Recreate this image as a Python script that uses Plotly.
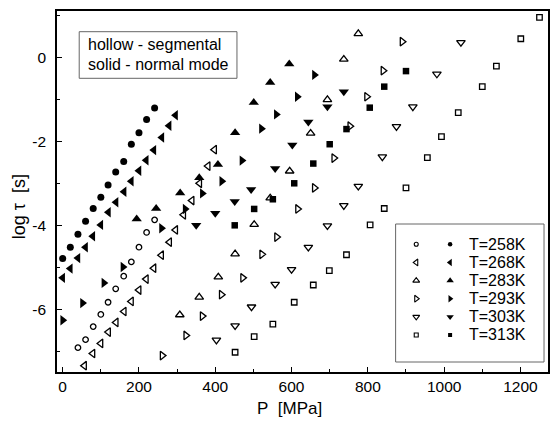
import plotly.graph_objects as go

# ---------------- data ----------------
temps = ["T=258K", "T=268K", "T=283K", "T=293K", "T=303K", "T=313K"]
symbols = ["circle", "triangle-left", "triangle-up", "triangle-right", "triangle-down", "square"]

# T=258K
p258_seg = [40, 60, 80, 100, 119, 139, 160, 180, 200, 220, 241]
t258_seg = [-6.91, -6.72, -6.41, -6.12, -5.83, -5.51, -5.21, -4.87, -4.52, -4.17, -3.87]
p258_nm = [0, 20, 40, 60, 80, 100, 119, 139, 160, 180, 200, 220, 241]
t258_nm = [-4.79, -4.52, -4.21, -3.90, -3.60, -3.33, -3.04, -2.73, -2.48, -2.07, -1.80, -1.48, -1.21]

# T=268K
p268_seg = [57, 79, 100, 120, 140, 161, 180, 200, 219, 239, 259, 280, 296, 317, 339, 359, 381, 398]
t268_seg = [-7.34, -7.05, -6.81, -6.54, -6.31, -6.05, -5.81, -5.54, -5.28, -5.02, -4.71, -4.40, -4.11, -3.75, -3.41, -3.00, -2.59, -2.20]
p268_nm = [0, 20, 40, 60, 79, 100, 120, 140, 161, 180, 200, 219, 239, 260, 279, 296]
t268_nm = [-5.25, -5.03, -4.78, -4.52, -4.26, -3.99, -3.69, -3.45, -3.20, -2.95, -2.70, -2.45, -2.21, -1.91, -1.63, -1.38]

# T=283K
p283_seg = [307, 358, 408, 452, 502, 544, 595, 650, 694, 737, 775]
t283_seg = [-6.13, -5.71, -5.23, -4.68, -3.98, -3.35, -2.71, -1.81, -1.01, -0.05, 0.56]
p283_nm = [194, 245, 308, 358, 407, 452, 501, 544, 594]
t283_nm = [-3.85, -3.60, -3.23, -2.87, -2.55, -1.80, -1.08, -0.60, -0.16]

# T=293K
p293_seg = [261, 323, 366, 416, 472, 522, 561, 616, 660, 711, 753, 797, 840, 890]
t293_seg = [-7.10, -6.62, -6.16, -5.65, -5.25, -4.69, -4.28, -3.61, -3.11, -2.40, -1.64, -0.94, -0.32, 0.37]
p293_nm = [0, 52, 108, 158, 259, 321, 366, 417, 470, 521, 560, 615, 660]
t293_nm = [-6.26, -5.85, -5.37, -4.99, -4.07, -3.61, -3.24, -2.95, -2.46, -1.70, -1.36, -0.94, -0.42]

# T=303K
p303_seg = [403, 452, 495, 557, 600, 644, 694, 737, 775, 838, 875, 918, 981, 1044]
t303_seg = [-6.73, -6.39, -5.94, -5.40, -5.05, -4.52, -4.01, -3.53, -3.07, -2.37, -1.65, -1.18, -0.40, 0.35]
p303_nm = [350, 400, 451, 494, 557, 602, 644, 694, 737]
t303_nm = [-4.00, -3.71, -3.43, -3.15, -2.65, -2.09, -1.54, -1.18, -0.82]

# T=313K
p313_seg = [452, 502, 551, 607, 657, 699, 744, 806, 843, 900, 956, 993, 1037, 1100, 1137, 1201, 1250]
t313_seg = [-7.02, -6.65, -6.35, -5.83, -5.42, -5.08, -4.70, -3.99, -3.60, -3.11, -2.39, -1.89, -1.32, -0.70, -0.21, 0.44, 0.95]
p313_nm = [451, 502, 551, 607, 657, 700, 744, 805, 843, 900]
t313_nm = [-4.00, -3.61, -3.38, -3.00, -2.53, -2.07, -1.71, -1.20, -0.70, -0.33]

seg_p = [p258_seg, p268_seg, p283_seg, p293_seg, p303_seg, p313_seg]
seg_t = [t258_seg, t268_seg, t283_seg, t293_seg, t303_seg, t313_seg]
nm_p = [p258_nm, p268_nm, p283_nm, p293_nm, p303_nm, p313_nm]
nm_t = [t258_nm, t268_nm, t283_nm, t293_nm, t303_nm, t313_nm]

x_ticks = [0, 200, 400, 600, 800, 1000, 1200]
x_ticktext = ["0", "200", "400", "600", "800", "1000", "1200"]
y_ticks = [0, -2, -4, -6]
y_ticktext = ["0", "-2", "-4", "-6"]

box_lines = ["hollow - segmental", "solid - normal mode"]
x_title = "P\u00a0\u00a0[MPa]"
y_title = "log\u00a0\u03c4\u00a0\u00a0[s]"

# ---------------- layout helpers ----------------
W, H = 551, 425
ML, MR, MT, MB = 57, 1, 11, 53
PW, PH = W - ML - MR, H - MT - MB


def px(x):
    return (x - ML) / PW


def py(y):
    return 1 - (y - MT) / PH


FONT = "Liberation Sans, Arial, sans-serif"

open_size = {"circle": 5.5, "triangle-left": 7.5, "triangle-up": 7.5,
             "triangle-right": 7.5, "triangle-down": 7.5, "square": 5.5}
fill_size = {"circle": 7, "triangle-left": 9, "triangle-up": 9,
             "triangle-right": 9, "triangle-down": 9, "square": 6.5}

fig = go.Figure()

for i, sym in enumerate(symbols):
    fig.add_trace(go.Scatter(
        x=seg_p[i], y=seg_t[i], mode="markers", showlegend=False,
        marker=dict(symbol=sym + "-open", size=open_size[sym], color="black",
                    line=dict(color="black", width=1.3)),
        name=temps[i] + " segmental"))
    fig.add_trace(go.Scatter(
        x=nm_p[i], y=nm_t[i], mode="markers", showlegend=False,
        marker=dict(symbol=sym, size=fill_size[sym], color="black",
                    line=dict(width=0)),
        name=temps[i] + " normal mode"))

# ---------------- custom legend (two marker columns) ----------------
rows = list(range(len(temps)))
for i, sym in enumerate(symbols):
    fig.add_trace(go.Scatter(
        x=[20.7], y=[rows[i]], xaxis="x2", yaxis="y2", mode="markers",
        showlegend=False, hoverinfo="skip",
        marker=dict(symbol=sym + "-open", size=open_size[sym] - 1.5, color="black",
                    line=dict(color="black", width=1.1))))
    fig.add_trace(go.Scatter(
        x=[54.7], y=[rows[i]], xaxis="x2", yaxis="y2", mode="markers",
        showlegend=False, hoverinfo="skip",
        marker=dict(symbol=sym, size=fill_size[sym] - 2.5, color="black",
                    line=dict(width=0))))

annotations = []
for i, t in enumerate(temps):
    annotations.append(dict(x=71.5, y=rows[i], xref="x2", yref="y2", text=t,
                            showarrow=False, xanchor="left", yanchor="middle",
                            font=dict(family=FONT, size=16, color="black")))

annotations.append(dict(x=px(86), y=py(45), xref="paper", yref="paper", text=box_lines[0],
                        showarrow=False, xanchor="left", yanchor="middle",
                        font=dict(family=FONT, size=16, color="black")))
annotations.append(dict(x=px(86), y=py(64), xref="paper", yref="paper", text=box_lines[1],
                        showarrow=False, xanchor="left", yanchor="middle",
                        font=dict(family=FONT, size=16, color="black")))

annotations.append(dict(x=px(290), y=py(408), xref="paper", yref="paper",
                        text=x_title, showarrow=False,
                        xanchor="center", yanchor="middle",
                        font=dict(family=FONT, size=17, color="black")))
annotations.append(dict(x=px(19), y=py(207), xref="paper", yref="paper",
                        text=y_title, showarrow=False, textangle=-90,
                        xanchor="center", yanchor="middle",
                        font=dict(family=FONT, size=18, color="black")))

shapes = [
    dict(type="rect", xref="paper", yref="paper", x0=px(79.3), x1=px(237.7),
         y0=py(78.3), y1=py(31.7), line=dict(color="#666666", width=1)),
    dict(type="rect", xref="paper", yref="paper", x0=px(397), x1=px(546),
         y0=py(362), y1=py(224), line=dict(color="#666666", width=1)),
]

fig.update_layout(
    width=W, height=H,
    margin=dict(l=ML, r=MR, t=MT, b=MB, pad=0),
    paper_bgcolor="white", plot_bgcolor="white",
    font=dict(family=FONT, size=15.5, color="black"),
    showlegend=False,
    annotations=annotations,
    shapes=shapes,
    xaxis=dict(range=[-14.9, 1272.3], tickvals=x_ticks, ticktext=x_ticktext,
               ticks="inside", ticklen=5, tickwidth=1, tickcolor="black",
               minor=dict(dtick=100, tick0=0, ticks="inside", ticklen=3, tickcolor="black"),
               showline=True, linecolor="black", linewidth=1.5, mirror=True,
               showgrid=False, zeroline=False,
               tickfont=dict(family=FONT, size=15.5, color="black")),
    yaxis=dict(range=[-7.49, 1.10], tickvals=y_ticks, ticktext=y_ticktext,
               ticks="inside", ticklen=5, tickwidth=1, tickcolor="black",
               minor=dict(dtick=1, tick0=0, ticks="inside", ticklen=3, tickcolor="black"),
               showline=True, linecolor="black", linewidth=1.5, mirror=True,
               showgrid=False, zeroline=False, ticklabelstandoff=6,
               tickfont=dict(family=FONT, size=15.5, color="black")),
    xaxis2=dict(domain=[px(397), px(546)], range=[0, 149], anchor="y2",
                visible=False, showgrid=False, zeroline=False, fixedrange=True),
    yaxis2=dict(domain=[py(362), py(224)], range=[6.49, -1.12], anchor="x2",
                visible=False, showgrid=False, zeroline=False, fixedrange=True),
)

fig.write_html("out.html")
